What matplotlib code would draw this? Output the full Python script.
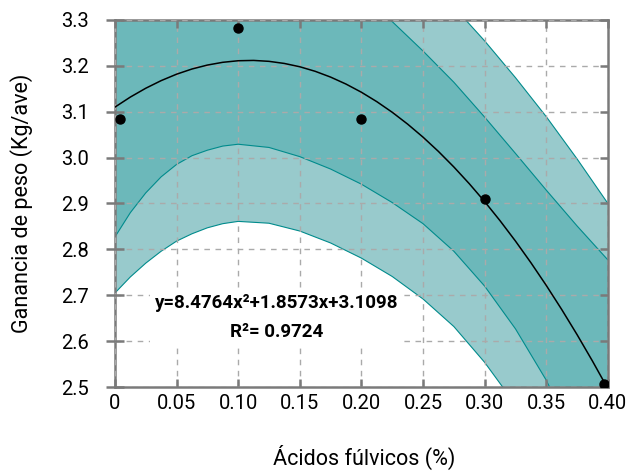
import numpy as np
import matplotlib
matplotlib.use('Agg')
import matplotlib.pyplot as plt

## Data ##
x_obs = [0.004, 0.10, 0.20, 0.30, 0.397]
y_obs = [3.084, 3.283, 3.084, 2.910, 2.507]

# fitted curve (black)
x_fit = [0.0, 0.0125, 0.025, 0.0375, 0.05, 0.0625, 0.075, 0.0875, 0.10, 0.1125,
         0.125, 0.1375, 0.15, 0.1625, 0.175, 0.1875, 0.20, 0.2125, 0.225, 0.2375,
         0.25, 0.2625, 0.275, 0.2875, 0.30, 0.3125, 0.325, 0.3375, 0.35, 0.3625,
         0.375, 0.3875, 0.40]
y_fit = [3.1098, 3.1317, 3.1509, 3.1675, 3.1815, 3.1928, 3.2014, 3.2074, 3.2108, 3.2115,
         3.2095, 3.2049, 3.1977, 3.1878, 3.1752, 3.1600, 3.1422, 3.1217, 3.0986, 3.0728,
         3.0444, 3.0133, 2.9795, 2.9431, 2.9041, 2.8624, 2.8181, 2.7711, 2.7215, 2.6692,
         2.6143, 2.5567, 2.4965]

# bands
x_band = [0.0, 0.0125, 0.025, 0.0375, 0.05, 0.0625, 0.075, 0.0875, 0.10, 0.125,
          0.15, 0.175, 0.20, 0.225, 0.25, 0.275, 0.30, 0.325, 0.35, 0.375, 0.40]
y_in_lo = [2.827, 2.880, 2.923, 2.958, 2.985, 3.004, 3.016, 3.025, 3.029, 3.022,
           3.002, 2.975, 2.942, 2.902, 2.856, 2.796, 2.720, 2.627, 2.515, 2.377, 2.217]
y_in_hi = [3.393, 3.385, 3.379, 3.377, 3.379, 3.382, 3.386, 3.390, 3.393, 3.398,
           3.394, 3.375, 3.342, 3.296, 3.232, 3.164, 3.088, 3.009, 2.929, 2.851, 2.777]
y_out_lo = [2.705, 2.740, 2.770, 2.796, 2.818, 2.834, 2.847, 2.856, 2.861, 2.857,
            2.840, 2.814, 2.781, 2.741, 2.692, 2.632, 2.554, 2.462, 2.355, 2.231, 2.094]
y_out_hi = [3.515, 3.523, 3.532, 3.539, 3.546, 3.551, 3.555, 3.558, 3.561, 3.563,
            3.556, 3.536, 3.503, 3.457, 3.396, 3.328, 3.254, 3.174, 3.089, 2.997, 2.900]

x_ticks = [0, 0.05, 0.10, 0.15, 0.20, 0.25, 0.30, 0.35, 0.40]
x_ticklabels = ['0', '0.05', '0.10', '0.15', '0.20', '0.25', '0.30', '0.35', '0.40']
y_ticks = [2.5, 2.6, 2.7, 2.8, 2.9, 3.0, 3.1, 3.2, 3.3]
y_ticklabels = ['2.5', '2.6', '2.7', '2.8', '2.9', '3.0', '3.1', '3.2', '3.3']

eq_text = 'y=8.4764x\u00b2+1.8573x+3.1098\nR\u00b2= 0.9724'

## Style ##
plt.rcParams['font.family'] = ['Roboto', 'DejaVu Sans']
dark = '#6cb8ba'
light = '#98cacc'
edge = '#008b8c'
grey = '#7a7a7a'

fig = plt.figure(figsize=(6.28, 4.71), dpi=100)
ax = fig.add_axes([0.183, 0.178, 0.785, 0.780])

## Bands, fit and points ##
ax.fill_between(x_band, y_out_lo, y_out_hi, color=light, lw=0, zorder=1)
ax.fill_between(x_band, y_in_lo, y_in_hi, color=dark, lw=0, zorder=1.1)
for yy in (y_out_lo, y_out_hi, y_in_lo, y_in_hi):
  ax.plot(x_band, yy, color=edge, lw=0.8, zorder=1.2)
ax.plot(x_fit, y_fit, color='k', lw=1.1, zorder=3)
ax.plot(x_obs, y_obs, 'o', color='k', ms=6.5, zorder=4)

## Axes ##
ax.set_xlim(0, 0.4)
ax.set_ylim(2.5, 3.3)
ax.set_xticks(x_ticks)
ax.set_xticklabels(x_ticklabels)
ax.set_yticks(y_ticks)
ax.set_yticklabels(y_ticklabels)
ax.grid(True, color='#aaaaaa', lw=1.0, linestyle=(0, (4, 4)), zorder=2)
ax.set_axisbelow(False)
for s in ax.spines.values():
  s.set_color(grey); s.set_linewidth(1.8)
ax.tick_params(axis='x', which='both', direction='in', length=6, width=1.8, color=grey,
               top=True, labelsize=14.5, pad=5)
ax.tick_params(axis='y', which='both', direction='inout', length=13, width=1.8, color=grey,
               labelsize=14.5, pad=12)
ax.tick_params(axis='y', which='both', right=True)
for t in ax.yaxis.get_major_ticks():
  t.tick2line.set_markersize(6)
  t.tick2line.set_marker(0)

ax.set_ylabel('Ganancia de peso (Kg/ave)', fontsize=15.5)
ax.yaxis.set_label_coords(-0.166, 0.5)
ax.set_xlabel('Ácidos fúlvicos (%)', fontsize=15.5)
ax.xaxis.set_label_coords(0.505, -0.158)

ax.text(0.131, 2.652, eq_text, ha='center', va='center', fontsize=13.5, fontweight='bold',
        linespacing=1.75, zorder=3.5,
        bbox=dict(facecolor='white', edgecolor='none', pad=3))

fig.savefig('out.png', dpi=100)
